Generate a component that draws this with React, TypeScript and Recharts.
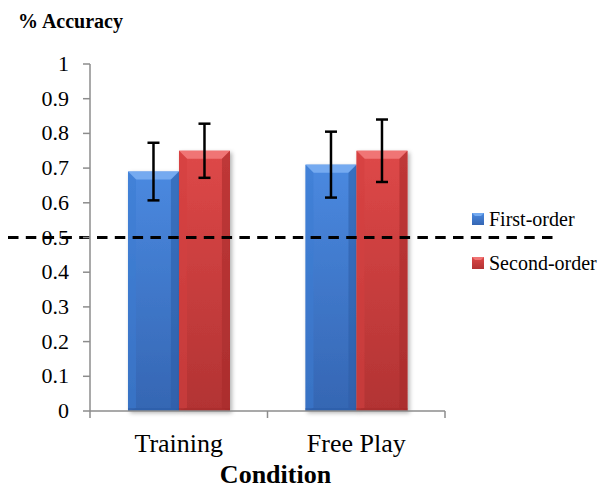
import React from 'react'
import {
  BarChart,
  Bar,
  XAxis,
  YAxis,
  ErrorBar,
  ReferenceLine,
} from 'recharts'

const conditions = ['Training', 'Free Play']
const firstOrder = [0.69, 0.71]
const secondOrder = [0.75, 0.75]
const firstOrderErr = [0.083, 0.095]
const secondOrderErr = [0.078, 0.09]
const yTicks = [0, 0.1, 0.2, 0.3, 0.4, 0.5, 0.6, 0.7, 0.8, 0.9, 1]
const chance = 0.5
const seriesNames = ['First-order', 'Second-order']

const data = conditions.map((c, i) => ({
  condition: c,
  first: firstOrder[i],
  second: secondOrder[i],
  firstErr: firstOrderErr[i],
  secondErr: secondOrderErr[i],
}))

const FONT = 'Liberation Serif, Times New Roman, serif'
const AXIS = '#8c8c8c'

const palette: Record<string, { face: string; top: string; dark: string }> = {
  blue: { face: '#3d7bd2', top: '#74aaf0', dark: '#2c5da6' },
  red: { face: '#d43f3f', top: '#f07474', dark: '#a52a2a' },
}

function BevelBar(props: any) {
  const { x, y, width, height, tone } = props
  if (!height || height <= 0) return null
  const c = palette[tone]
  const b = Math.min(8, width / 5)
  return (
    <g filter="url(#barShadow)">
      <rect x={x} y={y} width={width} height={height} fill={`url(#face-${tone})`} />
      <polygon
        points={`${x},${y} ${x + width},${y} ${x + width - b},${y + b} ${x + b},${y + b}`}
        fill={c.top}
      />
      <polygon
        points={`${x},${y} ${x + b},${y + b} ${x + b},${y + height - 3} ${x},${y + height}`}
        fill={c.face}
        opacity={0.55}
      />
      <polygon
        points={`${x + width},${y} ${x + width - b},${y + b} ${x + width - b},${y + height - 3} ${x + width},${y + height}`}
        fill={c.dark}
        opacity={0.55}
      />
      <rect x={x} y={y + height - 3} width={width} height={3} fill={c.dark} opacity={0.6} />
    </g>
  )
}

function CategoryTick(props: any) {
  const { x, y, payload, index } = props
  const half = payload && payload.offset ? payload.offset : 88.75
  return (
    <g>
      <line x1={x - half} y1={y} x2={x - half} y2={y + 7} stroke={AXIS} strokeWidth={1.5} />
      {index === conditions.length - 1 && (
        <line x1={x + half} y1={y} x2={x + half} y2={y + 7} stroke={AXIS} strokeWidth={1.5} />
      )}
      <text x={x} y={y + 41} textAnchor="middle" fontFamily={FONT} fontSize={26} fill="#000">
        {payload.value}
      </text>
    </g>
  )
}

function ValueTick(props: any) {
  const { x, y, payload } = props
  return (
    <text x={x} y={y + 7} textAnchor="end" fontFamily={FONT} fontSize={22} fill="#000">
      {String(Math.round(payload.value * 10) / 10)}
    </text>
  )
}

function DashedChance(props: any) {
  const { x1, x2, y1 } = props
  return (
    <line
      x1={x1 - 82}
      y1={y1}
      x2={x2 + 108}
      y2={y1}
      stroke="#000"
      strokeWidth={3}
      strokeDasharray="10.5 7.3"
    />
  )
}

function LegendBox() {
  const tones = ['blue', 'red']
  return (
    <div
      style={{
        position: 'absolute',
        left: 472,
        top: 197,
        fontFamily: FONT,
        fontSize: 20,
        color: '#000',
      }}
    >
      {seriesNames.map((label, i) => (
        <div key={label} style={{ display: 'flex', alignItems: 'center', height: 44 }}>
          <svg width={14} height={12} style={{ marginRight: 3 }}>
            <rect x={0} y={0} width={12} height={12} fill={`url(#face-${tones[i]})`} />
            <polygon points="0,0 12,0 9,3 3,3" fill={palette[tones[i]].top} />
          </svg>
          <span>{label}</span>
        </div>
      ))}
    </div>
  )
}

export default function App() {
  return (
    <div style={{ position: 'absolute', left: 0, top: 0, width: 605, height: 489, background: '#fff' }}>
      <BarChart
        width={605}
        height={489}
        data={data}
        margin={{ top: 64, right: 160, bottom: 0, left: 0 }}
        barCategoryGap="21.4%"
        barGap={0}
      >
        <defs>
          <linearGradient id="face-blue" x1="0" y1="0" x2="0" y2="1">
            <stop offset="0%" stopColor="#4a89e0" />
            <stop offset="100%" stopColor="#3566b3" />
          </linearGradient>
          <linearGradient id="face-red" x1="0" y1="0" x2="0" y2="1">
            <stop offset="0%" stopColor="#de4848" />
            <stop offset="100%" stopColor="#b23333" />
          </linearGradient>
          <filter id="barShadow" x="-20%" y="-5%" width="150%" height="115%">
            <feDropShadow dx={2} dy={2} stdDeviation={2} floodColor="#000" floodOpacity={0.3} />
          </filter>
        </defs>
        <XAxis
          dataKey="condition"
          height={78}
          axisLine={{ stroke: AXIS, strokeWidth: 1.5 }}
          tickLine={false}
          tickSize={0}
          tickMargin={0}
          tick={<CategoryTick />}
          label={(p: any) => {
            const vb = p.viewBox
            return (
              <text
                x={vb.x + vb.width / 2 + 8}
                y={vb.y + 72}
                textAnchor="middle"
                fontFamily={FONT}
                fontWeight="bold"
                fontSize={26}
                fill="#000"
              >
                Condition
              </text>
            )
          }}
        />
        <YAxis
          width={90}
          domain={[0, 1]}
          ticks={yTicks}
          interval={0}
          axisLine={{ stroke: AXIS, strokeWidth: 1.5 }}
          tickLine={{ stroke: AXIS, strokeWidth: 1.5 }}
          tickSize={7}
          tickMargin={14}
          tick={<ValueTick />}
          label={(p: any) => {
            const vb = p.viewBox
            return (
              <text
                x={vb.x + 18}
                y={vb.y - 36}
                textAnchor="start"
                fontFamily={FONT}
                fontWeight="bold"
                fontSize={20}
                fill="#000"
              >
                % Accuracy
              </text>
            )
          }}
        />
        <Bar
          dataKey="first"
          name={seriesNames[0]}
          isAnimationActive={false}
          shape={<BevelBar tone="blue" />}
        >
          <ErrorBar dataKey="firstErr" width={6} stroke="#000" strokeWidth={2.5} />
        </Bar>
        <Bar
          dataKey="second"
          name={seriesNames[1]}
          isAnimationActive={false}
          shape={<BevelBar tone="red" />}
        >
          <ErrorBar dataKey="secondErr" width={6} stroke="#000" strokeWidth={2.5} />
        </Bar>
        <ReferenceLine y={chance} ifOverflow="visible" shape={<DashedChance />} />
      </BarChart>
      <LegendBox />
    </div>
  )
}
